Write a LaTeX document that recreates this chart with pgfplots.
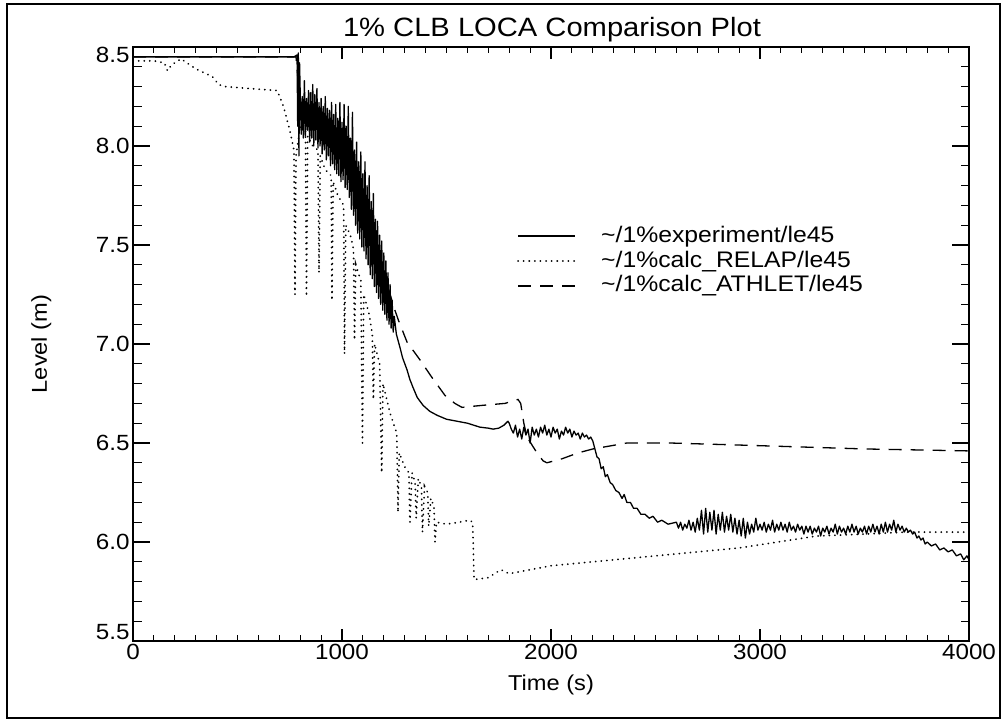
\documentclass[border=0pt]{standalone}
\usepackage{pgfplots}
\pgfplotsset{compat=1.18}
\usepackage{fontspec}
\setmainfont[FakeStretch=1.1]{Liberation Sans}

\tikzset{
  expstyle/.style={black, line width=1.3pt, line join=round},
  relapstyle/.style={black, line width=1.9pt, line cap=round, dash pattern=on 0.1pt off 5.5pt},
  athletstyle/.style={black, line width=1.3pt, dash pattern=on 13pt off 9pt},
}
\pgfplotsset{
  levelframe/.style={
    scale only axis, width=836pt, height=594pt,
    at={(0pt,0pt)}, anchor=south west,
    xmin=0, xmax=4000, ymin=5.5, ymax=8.5,
    axis line style={line width=1.4pt},
    tick style={line width=1.1pt, black},
    tick align=inside,
    /pgf/number format/assume math mode=true,
    ticklabel style={font=\fontsize{22}{22}\selectfont},
  },
}

\begin{document}
\begin{tikzpicture}
\useasboundingbox (-133pt,-79pt) rectangle (873pt,641pt);

% x axis ticks and all curves
\begin{axis}[levelframe,
  xtick={0,1000,2000,3000,4000}, minor x tick num=9,
  ytick=\empty,
  major tick length=12pt, minor tick length=6pt,
  scaled x ticks=false,
  xticklabel style={/pgf/number format/fixed, /pgf/number format/1000 sep={}},
]
% measured level
\addplot[expstyle] coordinates {
(0,8.45) (770,8.45) (785,8.46) (788,8.10) (791,8.47) (794,7.95) (797,8.42)
(800,8.27) (805,8.06) (810,8.25) (815,8.04) (820,8.33) (825,8.05) (830,8.24) (835,8.08)
(840,8.28) (845,8.02) (850,8.27) (855,8.04) (860,8.31) (865,8.00) (870,8.26) (875,8.03)
(880,8.29) (885,7.99) (890,8.22) (895,8.00) (900,8.24) (905,7.96) (910,8.20) (915,7.98)
(920,8.25) (925,7.93) (930,8.19) (935,7.95) (940,8.18) (945,7.90) (950,8.22) (955,7.91)
(960,8.16) (965,7.88) (970,8.21) (975,7.86) (980,8.14) (985,7.85) (990,8.22) (995,7.82)
(1000,8.12) (1005,7.83) (1010,8.21) (1015,7.79) (1020,8.10) (1025,7.78) (1030,8.20) (1035,7.74)
(1040,8.04) (1045,7.68) (1050,8.17) (1055,7.65) (1060,7.98) (1065,7.60) (1070,8.02) (1075,7.56)
(1080,7.92) (1085,7.53) (1090,7.97) (1095,7.49) (1100,7.86) (1105,7.47) (1110,7.92) (1115,7.43)
(1120,7.80) (1125,7.40) (1130,7.85) (1135,7.35) (1140,7.72) (1145,7.33) (1150,7.76) (1155,7.29)
(1160,7.63) (1165,7.26) (1170,7.62) (1175,7.23) (1180,7.55) (1185,7.20) (1190,7.52) (1195,7.17)
(1200,7.46) (1205,7.15) (1210,7.42) (1215,7.12) (1220,7.36) (1225,7.10) (1230,7.30) (1235,7.08)
(1240,7.22) (1245,7.06) (1250,7.14) (1260,7.05) (1278,6.98) (1290,6.93) (1311,6.87) (1325,6.82)
(1340,6.78) (1360,6.73) (1388,6.69) (1420,6.66) (1455,6.64) (1500,6.62) (1550,6.61) (1600,6.60)
(1660,6.58) (1700,6.575) (1723,6.57) (1750,6.575) (1775,6.59) (1794,6.61) (1800,6.60) (1810,6.57)
(1820,6.55) (1830,6.59) (1840,6.53) (1850,6.57) (1860,6.52) (1870,6.58) (1880,6.54) (1890,6.57)
(1900,6.50) (1910,6.58) (1920,6.54) (1930,6.57) (1940,6.53) (1950,6.58) (1960,6.55) (1970,6.59)
(1980,6.54) (1990,6.57) (2000,6.53) (2010,6.58) (2020,6.55) (2030,6.57) (2040,6.52) (2050,6.56)
(2060,6.54) (2070,6.58) (2080,6.55) (2090,6.57) (2100,6.53) (2110,6.56) (2120,6.54) (2130,6.55)
(2140,6.52) (2150,6.55) (2160,6.53) (2170,6.54) (2180,6.52) (2190,6.53) (2200,6.51) (2210,6.47)
(2220,6.43) (2230,6.42) (2240,6.37) (2250,6.38) (2260,6.33) (2270,6.34) (2283,6.30) (2295,6.29)
(2310,6.26) (2325,6.25) (2340,6.22) (2350,6.24) (2363,6.20) (2380,6.20) (2395,6.17) (2412,6.17)
(2430,6.14) (2450,6.14) (2470,6.12) (2488,6.13) (2510,6.10) (2530,6.11) (2560,6.09) (2600,6.10)
(2610,6.07) (2620,6.10) (2630,6.06) (2640,6.09) (2650,6.07) (2660,6.11) (2670,6.06) (2680,6.10)
(2690,6.05) (2700,6.12) (2710,6.06) (2720,6.16) (2730,6.04) (2740,6.17) (2750,6.05) (2760,6.15)
(2770,6.06) (2780,6.16) (2790,6.04) (2800,6.14) (2810,6.06) (2820,6.15) (2830,6.05) (2840,6.13)
(2850,6.06) (2860,6.14) (2870,6.05) (2880,6.12) (2890,6.04) (2900,6.11) (2910,6.03) (2920,6.12)
(2930,6.02) (2940,6.10) (2950,6.04) (2960,6.09) (2970,6.05) (2980,6.12) (2990,6.06) (3000,6.09)
(3010,6.06) (3020,6.10) (3030,6.05) (3040,6.09) (3050,6.06) (3060,6.11) (3070,6.05) (3080,6.09)
(3090,6.06) (3100,6.10) (3110,6.06) (3120,6.09) (3130,6.05) (3140,6.10) (3150,6.06) (3160,6.08)
(3170,6.05) (3180,6.09) (3190,6.06) (3200,6.08) (3210,6.04) (3220,6.08) (3230,6.05) (3240,6.08)
(3250,6.04) (3260,6.07) (3270,6.05) (3280,6.08) (3290,6.03) (3300,6.07) (3310,6.05) (3320,6.08)
(3330,6.04) (3340,6.07) (3350,6.05) (3360,6.09) (3370,6.04) (3380,6.08) (3390,6.05) (3400,6.07)
(3410,6.04) (3420,6.08) (3430,6.05) (3440,6.09) (3450,6.05) (3460,6.08) (3470,6.04) (3480,6.07)
(3490,6.05) (3500,6.08) (3510,6.04) (3520,6.08) (3530,6.05) (3540,6.09) (3550,6.05) (3560,6.08)
(3570,6.04) (3580,6.09) (3590,6.05) (3600,6.10) (3610,6.05) (3620,6.09) (3630,6.06) (3640,6.11)
(3650,6.05) (3660,6.09) (3670,6.06) (3680,6.08) (3690,6.05) (3700,6.07) (3710,6.05) (3720,6.06)
(3730,6.04) (3740,6.05) (3751,6.02) (3760,6.03) (3770,6.01) (3780,6.02) (3790,5.99) (3800,6.00)
(3820,5.98) (3840,5.99) (3860,5.96) (3880,5.97) (3900,5.95) (3920,5.96) (3940,5.93) (3960,5.94)
(3975,5.91) (3990,5.93) (4000,5.91)
};
% RELAP calculation
\addplot[relapstyle] coordinates {
(0,8.43) (100,8.43) (150,8.42) (165,8.38) (185,8.41) (230,8.44) (300,8.39) (380,8.35)
(410,8.31) (440,8.30) (560,8.29) (690,8.28) (720,8.20) (750,8.08) (770,7.98) (775,7.25)
(780,7.95) (800,8.10) (825,8.12) (830,7.24) (836,8.05) (860,8.00) (885,7.98) (890,7.36)
(896,7.95) (920,7.88) (948,7.85) (952,7.22) (958,7.82) (980,7.75) (1008,7.70) (1012,6.95)
(1018,7.60) (1040,7.55) (1055,7.48) (1060,7.02) (1066,7.40) (1090,7.32) (1098,6.50) (1104,7.25)
(1130,7.15) (1145,7.05) (1150,6.72) (1156,7.00) (1180,6.90) (1190,6.35) (1196,6.80) (1230,6.65)
(1262,6.55) (1268,6.15) (1274,6.45) (1300,6.38) (1320,6.35) (1325,6.10) (1335,6.35) (1350,6.30)
(1355,6.12) (1365,6.32) (1380,6.28) (1385,6.05) (1395,6.28) (1410,6.25) (1415,6.08) (1425,6.22)
(1440,6.18) (1445,6.00) (1452,6.10) (1500,6.09) (1560,6.10) (1610,6.11) (1625,6.10) (1632,5.81)
(1700,5.82) (1760,5.86) (1800,5.84) (1850,5.85) (2000,5.88) (2500,5.93) (2900,5.97) (3270,6.03)
(3500,6.04) (3700,6.05) (4000,6.05)
};
% ATHLET calculation
\addplot[athletstyle] coordinates {
(0,8.45) (780,8.45) (800,8.20) (850,8.15) (900,8.08) (950,8.00) (1000,7.92) (1050,7.82)
(1100,7.68) (1150,7.52) (1200,7.36) (1250,7.18) (1270,7.12) (1311,7.01) (1373,6.92) (1431,6.83)
(1493,6.74) (1540,6.70) (1574,6.68) (1670,6.69) (1780,6.70) (1842,6.72) (1855,6.70) (1870,6.60)
(1885,6.53) (1933,6.45) (1962,6.41) (1980,6.40) (2052,6.42) (2129,6.45) (2201,6.47) (2363,6.50)
(2569,6.50) (2890,6.49) (3500,6.47) (4000,6.46)
};
\end{axis}

% y axis ticks; the end labels sit inside the axis range
\begin{axis}[levelframe,
  xtick=\empty,
  ytick={5.5,6.0,6.5,7.0,7.5,8.0,8.5}, minor y tick num=4,
  major tick length=17pt, minor tick length=8.5pt,
  yticklabels={\raisebox{9pt}[15.5pt][0pt]{5.5},6.0,6.5,7.0,7.5,8.0,\raisebox{-8pt}[15.5pt][0pt]{8.5}},
]
\end{axis}

% outer frame, title and axis labels
\draw[line width=1.5pt] (-126pt,637pt) rectangle (867pt,-77pt);
\node[anchor=base, inner sep=0pt, font=\fontsize{26.5}{26.5}\selectfont] at (419pt,604pt) {1\% CLB LOCA Comparison Plot};
\node[anchor=base, inner sep=0pt, font=\fontsize{21.5}{21.5}\selectfont] at (418pt,-49pt) {Time (s)};
\node[anchor=base, rotate=90, inner sep=0pt, font=\fontsize{21.5}{21.5}\selectfont] at (-86pt,297pt) {Level (m)};

% legend
\draw[expstyle] (385pt,405pt) -- (442pt,405pt);
\draw[relapstyle] (385pt,380pt) -- (442pt,380pt);
\draw[athletstyle] (385pt,355pt) -- (442pt,355pt);
\node[anchor=base west, inner sep=0pt, font=\fontsize{22.5}{22.5}\selectfont] at (468pt,398pt) {\char`\~/1\%experiment/le45};
\node[anchor=base west, inner sep=0pt, font=\fontsize{22.5}{22.5}\selectfont] at (468pt,373pt) {\char`\~/1\%calc\_RELAP/le45};
\node[anchor=base west, inner sep=0pt, font=\fontsize{22.5}{22.5}\selectfont] at (468pt,349pt) {\char`\~/1\%calc\_ATHLET/le45};
\end{tikzpicture}
\end{document}
